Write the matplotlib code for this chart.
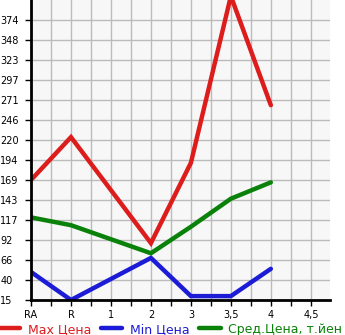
import numpy as np
import matplotlib
matplotlib.use('Agg')
import matplotlib.pyplot as plt

# categories along the x axis
labels = ['RA', 'R', '1', '2', '3', '3,5', '4', '4,5']
ytick_vals = [15, 40.67, 66.33, 92, 117.67, 143.33, 169, 194.67, 220.33,
              246, 271.67, 297.33, 323, 348.67, 374.33]
ytick_labels = ['15', '40', '66', '92', '117', '143', '169', '194', '220',
                '246', '271', '297', '323', '348', '374']

# values per category (nan = no data)
max_price = [169, 224, np.nan, 88, 191, 405, 265, np.nan]
min_price = [51, 15, np.nan, 69, 20, 20, 55, np.nan]
avg_price = [121, 111, np.nan, 75, 109, 145, 166, np.nan]

fig = plt.figure(figsize=(3.45, 3.35), dpi=100)
ax = fig.add_axes([31/345, 35/335, 299/345, 300/335])
ax.set_facecolor('#f7f7f7')

x = np.arange(len(labels))
series = [
    (max_price, '#dd1c1c', 'Max Цена'),
    (min_price, '#1c1cd6', 'Min Цена'),
    (avg_price, '#0a820a', 'Сред.Цена, т.йен'),
]
for vals, col, name in series:
    v = np.array(vals, dtype=float)
    m = ~np.isnan(v)
    ax.plot(x[m], v[m], color=col, lw=3.2, solid_capstyle='round',
            solid_joinstyle='miter', label=name, clip_on=True)

ax.set_xlim(0, 7.48)
ax.set_ylim(15, 400)
ax.set_xticks(x)
ax.set_xticklabels(labels)
ax.set_xticks(np.arange(0.5, 7.5, 1), minor=True)
ax.set_yticks(ytick_vals)
ax.set_yticklabels(ytick_labels)

ax.grid(True, which='major', color='#bbbbbb', lw=1)
ax.grid(True, which='minor', axis='x', color='#bbbbbb', lw=1)
ax.set_axisbelow(True)
for s in ['top', 'right']:
    ax.spines[s].set_visible(False)
for s in ['left', 'bottom']:
    ax.spines[s].set_linewidth(2)
ax.tick_params(axis='both', which='both', length=4, width=1, labelsize=7,
               direction='out')
ax.tick_params(axis='y', pad=18)
for lab in ax.get_yticklabels():
    lab.set_ha('left')
ax.tick_params(axis='x', pad=3)

leg = fig.legend(loc='lower left', bbox_to_anchor=(-0.003, -0.002), ncol=3,
                 frameon=False, fontsize=9, handlelength=1.7,
                 handletextpad=0.6, columnspacing=0.8, labelcolor='linecolor',
                 borderpad=0, borderaxespad=0)

fig.savefig('out.png', dpi=100)
